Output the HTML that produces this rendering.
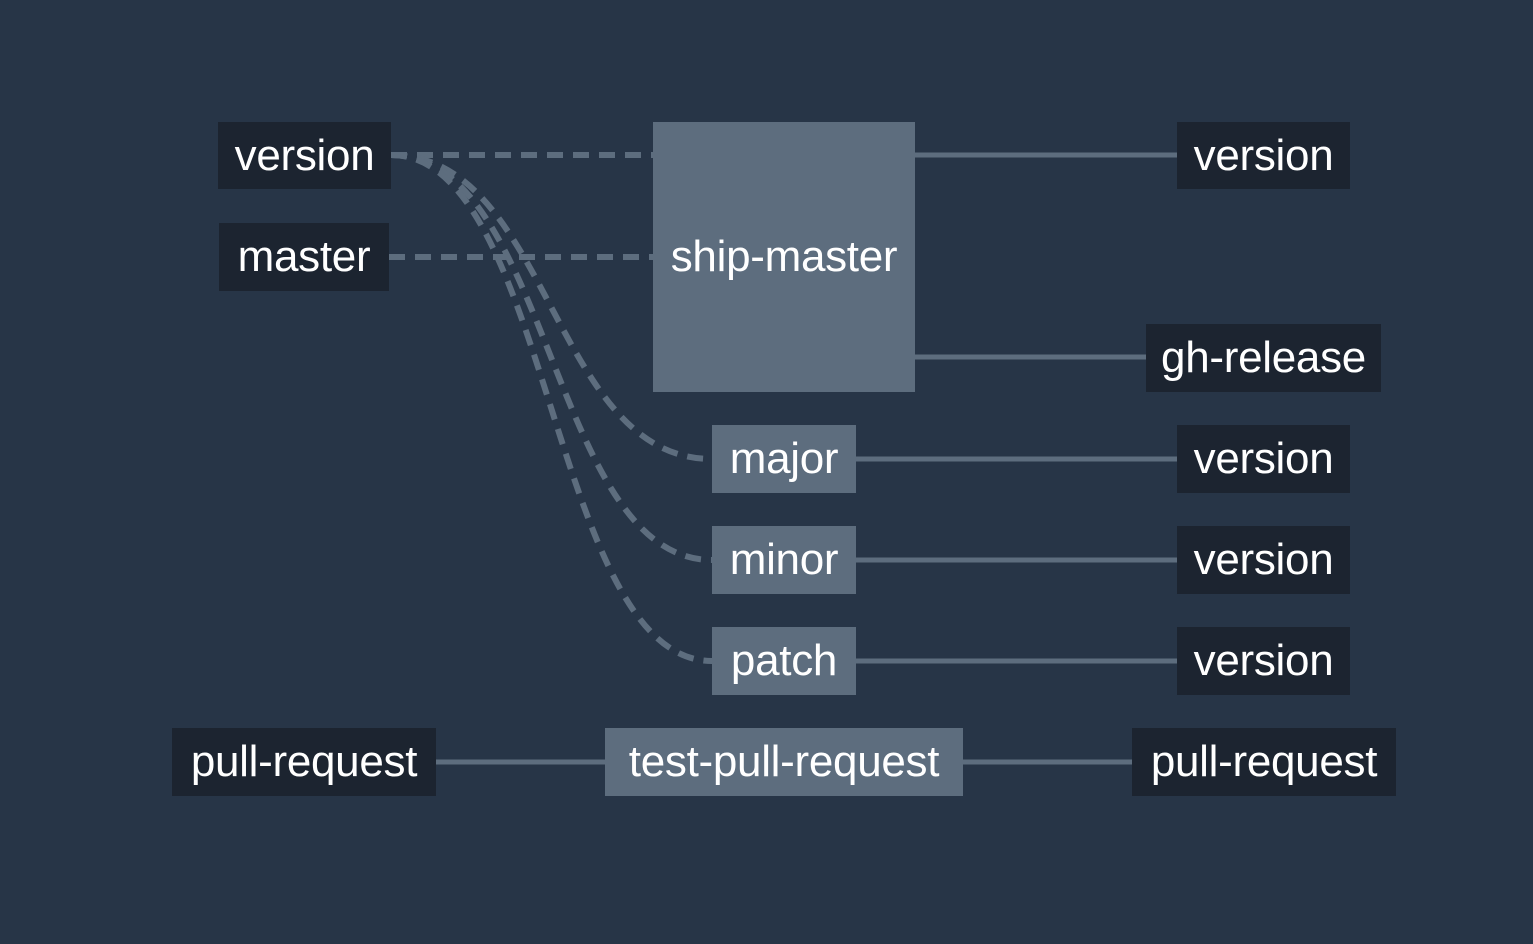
<!DOCTYPE html>
<html><head><style>
body{margin:0;width:1533px;height:944px;background:#273547;overflow:hidden;position:relative;font-family:"Liberation Sans",sans-serif}
.b{position:absolute;display:flex;align-items:center;justify-content:center;color:#fff;font-size:44px;box-sizing:border-box;letter-spacing:-0.3px;white-space:nowrap}
.r{background:#1c2430}
.j{background:#5d6d7e}
svg{position:absolute;left:0;top:0}
</style></head><body>
<svg width="1533" height="944">
<g stroke="#5d6d7e" stroke-width="5" fill="none">
<path d="M391 155 H653" stroke-dasharray="16 10" stroke-width="6"/>
<path d="M389 257 H653" stroke-dasharray="16 10" stroke-width="6"/>
<path d="M391 155 C551 155 551 459 712 459" stroke-dasharray="16 10" stroke-width="6"/>
<path d="M391 155 C551 155 551 560 712 560" stroke-dasharray="16 10" stroke-width="6"/>
<path d="M391 155 C551 155 551 661 712 661" stroke-dasharray="16 10" stroke-width="6"/>
<path d="M915 155 H1177"/>
<path d="M915 357 H1146"/>
<path d="M856 459 H1177"/>
<path d="M856 560 H1177"/>
<path d="M856 661 H1177"/>
<path d="M436 762 H605"/>
<path d="M963 762 H1132"/>
</g></svg>
<div class="b r" style="left:218px;top:122px;width:173px;height:67px">version</div>
<div class="b r" style="left:219px;top:223px;width:170px;height:68px">master</div>
<div class="b j" style="left:653px;top:122px;width:262px;height:270px">ship-master</div>
<div class="b r" style="left:1177px;top:122px;width:173px;height:67px">version</div>
<div class="b r" style="left:1146px;top:324px;width:235px;height:68px">gh-release</div>
<div class="b j" style="left:712px;top:425px;width:144px;height:68px">major</div>
<div class="b r" style="left:1177px;top:425px;width:173px;height:68px">version</div>
<div class="b j" style="left:712px;top:526px;width:144px;height:68px">minor</div>
<div class="b r" style="left:1177px;top:526px;width:173px;height:68px">version</div>
<div class="b j" style="left:712px;top:627px;width:144px;height:68px">patch</div>
<div class="b r" style="left:1177px;top:627px;width:173px;height:68px">version</div>
<div class="b r" style="left:172px;top:728px;width:264px;height:68px">pull-request</div>
<div class="b j" style="left:605px;top:728px;width:358px;height:68px">test-pull-request</div>
<div class="b r" style="left:1132px;top:728px;width:264px;height:68px">pull-request</div>
</body></html>
